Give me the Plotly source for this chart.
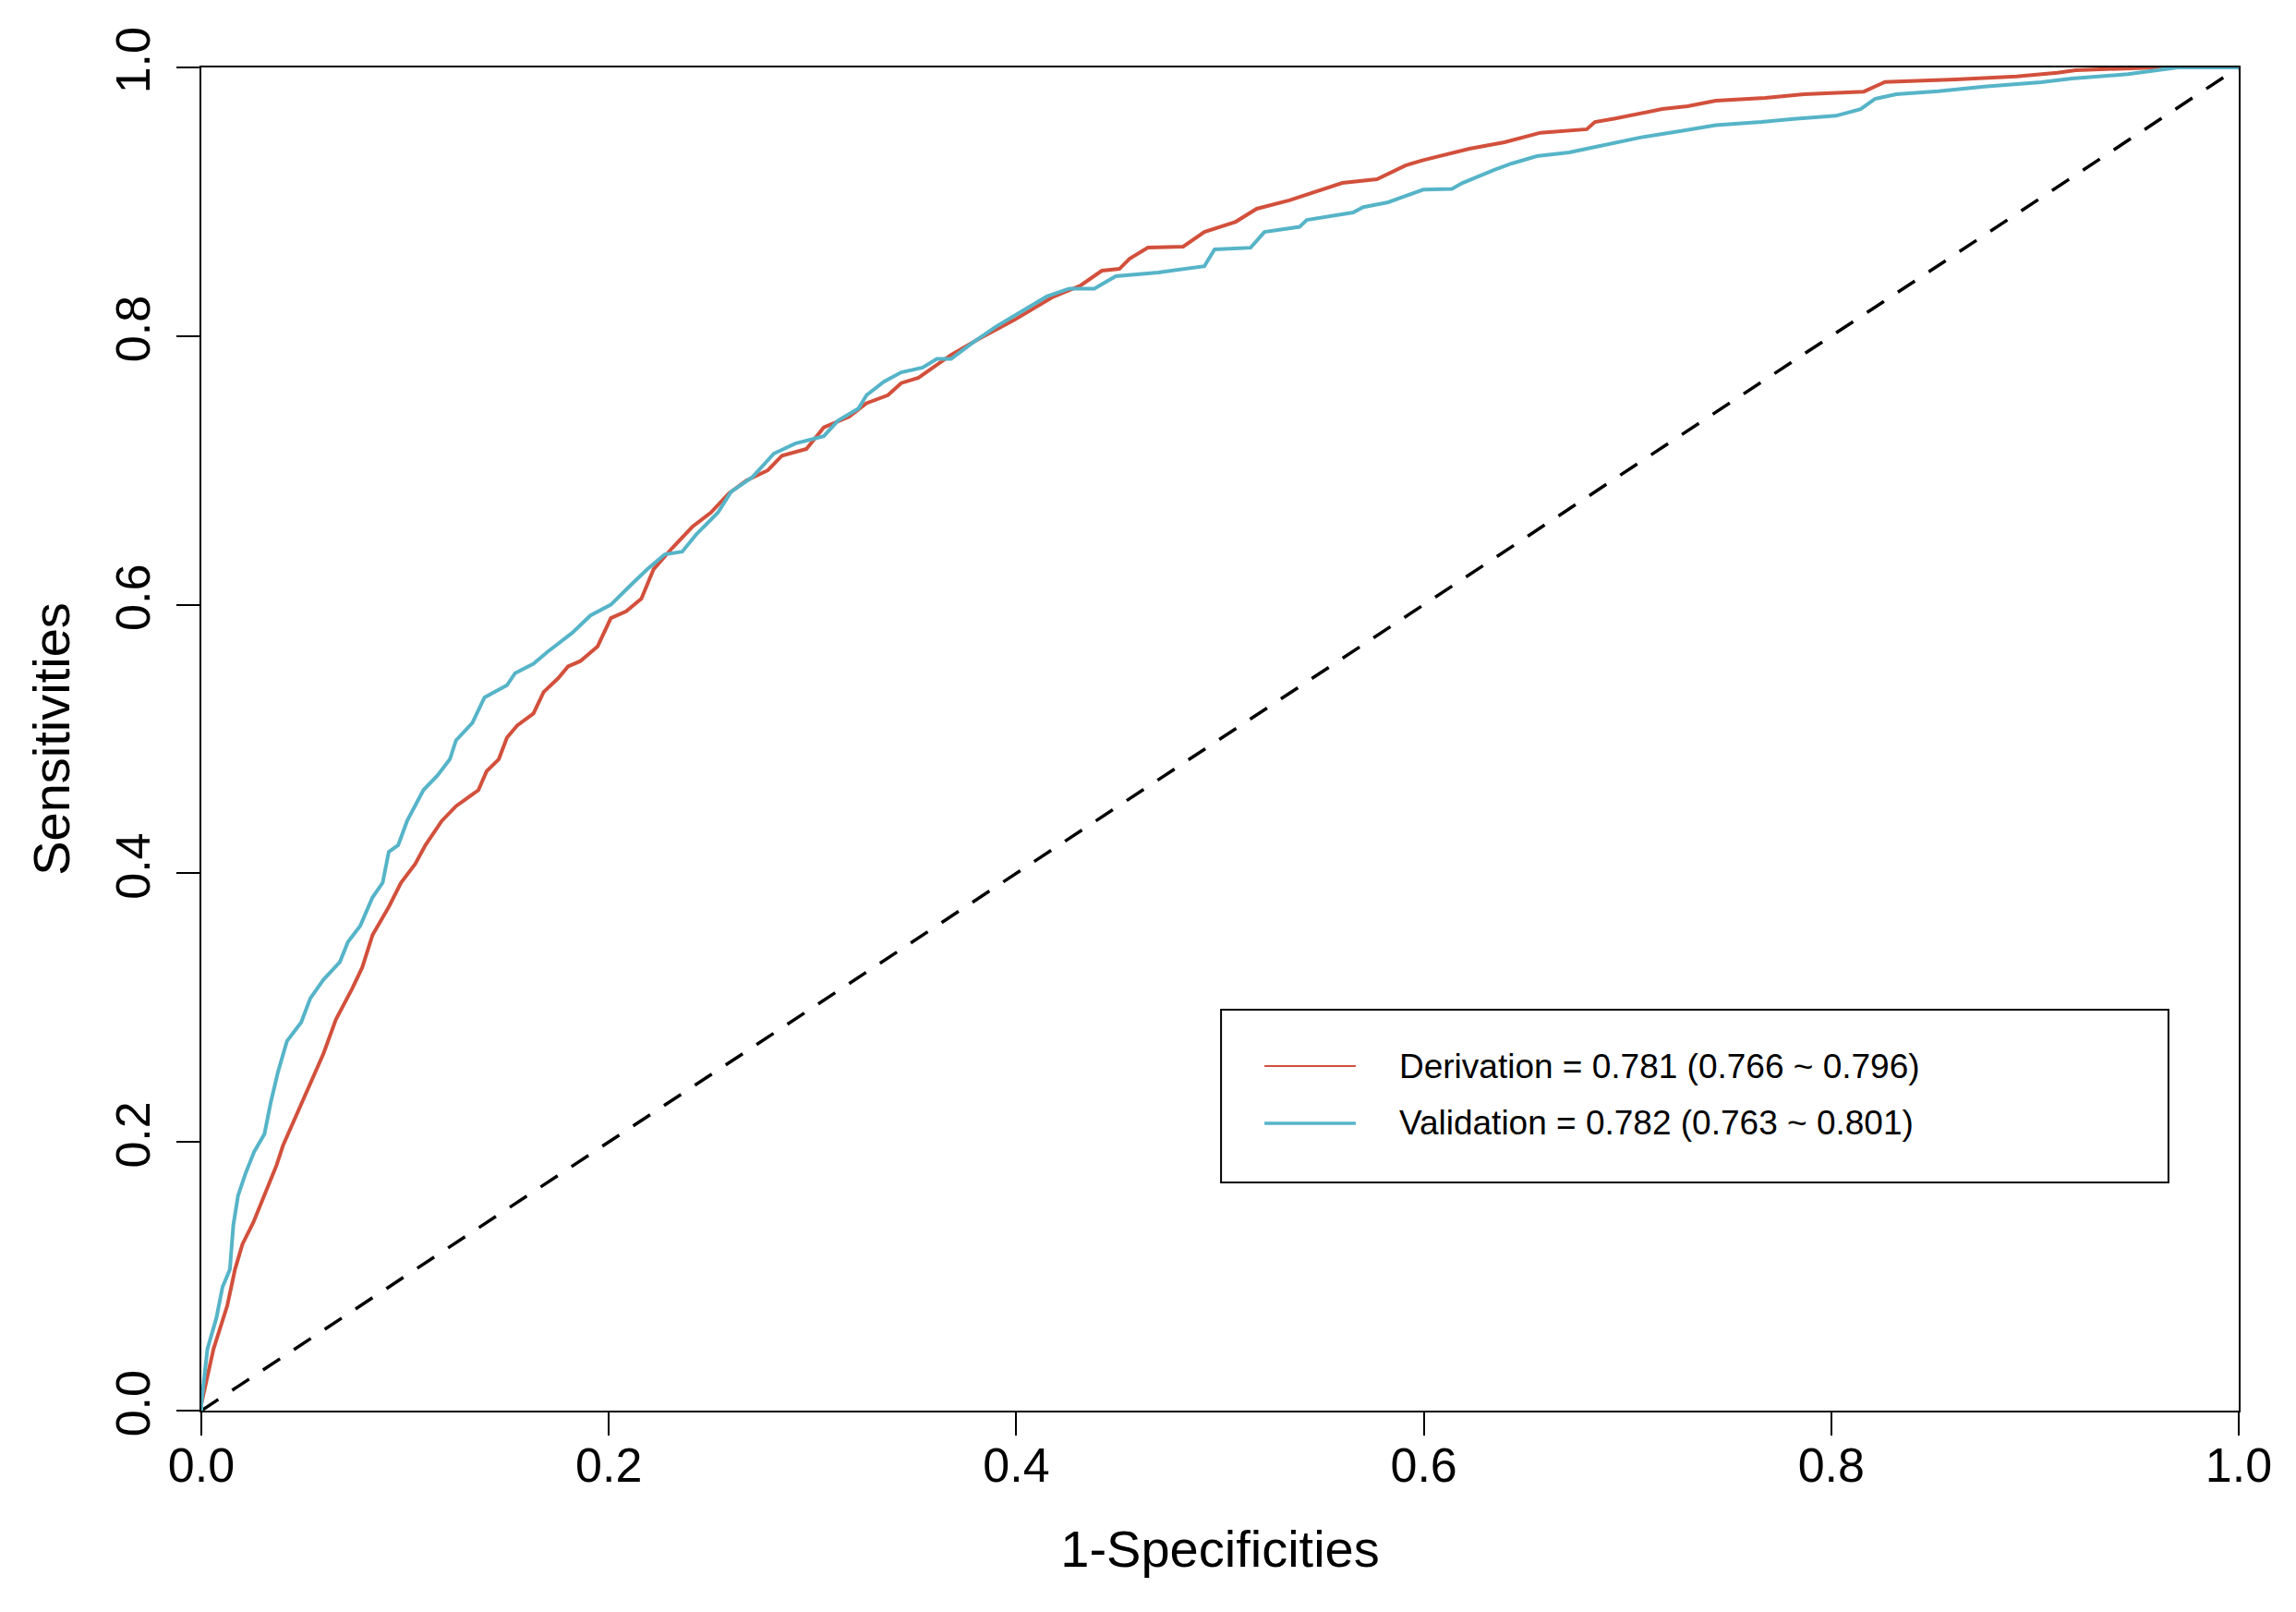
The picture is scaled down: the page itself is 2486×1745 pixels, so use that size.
import plotly.graph_objects as go

# Derivation ROC curve (1-specificity, sensitivity)
deriv_fpr = [0.0, 0.0, 0.006, 0.0127, 0.0165, 0.0202, 0.0255, 0.031, 0.037, 0.040, 0.0467, 0.0527,
             0.060, 0.066, 0.074, 0.079, 0.084, 0.092, 0.098, 0.105, 0.110, 0.118, 0.125, 0.136,
             0.140, 0.146, 0.150, 0.155, 0.163, 0.168, 0.175, 0.180, 0.186, 0.1945, 0.201, 0.2085,
             0.216, 0.222, 0.231, 0.241, 0.250, 0.259, 0.2675, 0.278, 0.285, 0.297, 0.3055, 0.318,
             0.3265, 0.337, 0.3435, 0.352, 0.361, 0.368, 0.3817, 0.399, 0.4175, 0.4316, 0.442,
             0.4506, 0.4556, 0.4646, 0.4819, 0.4923, 0.5077, 0.518, 0.534, 0.5476, 0.560, 0.577,
             0.591, 0.5997, 0.6224, 0.6396, 0.6573, 0.680, 0.684, 0.694, 0.7068, 0.717, 0.7294,
             0.7433, 0.7675, 0.7866, 0.816, 0.8264, 0.861, 0.891, 0.911, 0.920, 0.960, 1.0]
deriv_tpr = [0.0, 0.005, 0.046, 0.078, 0.105, 0.124, 0.140, 0.160, 0.183, 0.197, 0.220, 0.241,
             0.266, 0.291, 0.314, 0.330, 0.354, 0.375, 0.393, 0.407, 0.421, 0.439, 0.450, 0.462,
             0.476, 0.485, 0.501, 0.510, 0.519, 0.535, 0.545, 0.554, 0.558, 0.569, 0.590, 0.595,
             0.6045, 0.6265, 0.642, 0.658, 0.6685, 0.683, 0.6925, 0.700, 0.711, 0.716, 0.732, 0.740,
             0.750, 0.756, 0.765, 0.769, 0.779, 0.786, 0.798, 0.812, 0.8288, 0.8377, 0.8487,
             0.850, 0.8576, 0.8659, 0.8666, 0.8775, 0.8851, 0.8948, 0.901, 0.9078, 0.914, 0.9168,
             0.927, 0.931, 0.9395, 0.9443, 0.9514, 0.954, 0.9594, 0.962, 0.9662, 0.969, 0.9711,
             0.9752, 0.9773, 0.980, 0.982, 0.9892, 0.991, 0.9933, 0.996, 0.998, 1.0, 1.0]

# Validation ROC curve
valid_fpr = [0.0, 0.0, 0.003, 0.0074, 0.0104, 0.014, 0.0157, 0.018, 0.0218, 0.026, 0.031, 0.034,
             0.0376, 0.042, 0.049, 0.0535, 0.060, 0.068, 0.072, 0.078, 0.084, 0.089, 0.092, 0.0966,
             0.101, 0.109, 0.116, 0.122, 0.125, 0.133, 0.139, 0.150, 0.154, 0.163, 0.170, 0.182,
             0.191, 0.201, 0.210, 0.219, 0.2275, 0.236, 0.243, 0.2535, 0.260, 0.2705, 0.281, 0.2915,
             0.3055, 0.3125, 0.3225, 0.3265, 0.335, 0.3435, 0.354, 0.361, 0.368, 0.3785, 0.390,
             0.4025, 0.415, 0.426, 0.4383, 0.4488, 0.4696, 0.4923, 0.4973, 0.515, 0.5218, 0.539,
             0.5426, 0.5653, 0.5703, 0.5825, 0.5997, 0.6138, 0.619, 0.6346, 0.6432, 0.6555, 0.6714,
             0.6843, 0.6947, 0.7068, 0.7257, 0.7433, 0.7657, 0.7815, 0.8023, 0.8144, 0.8214, 0.8319,
             0.8526, 0.875, 0.903, 0.918, 0.9456, 0.962, 0.970, 1.0]
valid_tpr = [0.0, 0.005, 0.046, 0.069, 0.092, 0.105, 0.138, 0.160, 0.177, 0.193, 0.206, 0.229,
             0.252, 0.275, 0.289, 0.307, 0.321, 0.334, 0.349, 0.361, 0.382, 0.393, 0.416, 0.421,
             0.439, 0.462, 0.473, 0.485, 0.499, 0.512, 0.531, 0.540, 0.549, 0.556, 0.565, 0.579,
             0.592, 0.600, 0.6135, 0.6265, 0.6375, 0.6395, 0.6525, 0.6685, 0.684, 0.695, 0.7125, 0.720,
             0.7255, 0.737, 0.746, 0.756, 0.766, 0.773, 0.7765, 0.783, 0.783, 0.795, 0.807,
             0.818, 0.8295, 0.8353, 0.8353, 0.8446, 0.8473, 0.852, 0.8645, 0.8658, 0.8775, 0.8813,
             0.8865, 0.892, 0.896, 0.8996, 0.909, 0.9096, 0.914, 0.9237, 0.9285, 0.934, 0.9367,
             0.9409, 0.9445, 0.948, 0.9525, 0.957, 0.9594, 0.9617, 0.964, 0.9689, 0.9766, 0.980,
             0.9823, 0.9857, 0.989, 0.9917, 0.995, 0.998, 1.0, 1.0]

ref_x = [0.0, 1.0]
ref_y = [0.0, 1.0]

tick_vals = [0.0, 0.2, 0.4, 0.6, 0.8, 1.0]
tick_text = ["0.0", "0.2", "0.4", "0.6", "0.8", "1.0"]

legend_labels = ["Derivation = 0.781 (0.766 ~ 0.796)", "Validation = 0.782 (0.763 ~ 0.801)"]

RED = "#D2503C"
BLUE = "#56B4C8"
FONT = "Liberation Sans, Arial, sans-serif"

fig = go.Figure()
fig.add_trace(go.Scatter(x=ref_x, y=ref_y, mode="lines", showlegend=False,
                         line=dict(color="black", width=3.5, dash="22px,18px"), hoverinfo="skip"))
fig.add_trace(go.Scatter(x=deriv_fpr, y=deriv_tpr, mode="lines", name=legend_labels[0],
                         showlegend=False, line=dict(color=RED, width=4)))
fig.add_trace(go.Scatter(x=valid_fpr, y=valid_tpr, mode="lines", name=legend_labels[1],
                         showlegend=False, line=dict(color=BLUE, width=4)))

# legend box (drawn like R's legend())
fig.add_shape(type="rect", xref="x", yref="y", x0=0.5005, x1=0.9655, y0=0.1699, y1=0.2985,
              line=dict(color="black", width=2), fillcolor="white", layer="above")
fig.add_shape(type="line", xref="x", yref="y", x0=0.5218, x1=0.5666, y0=0.2565, y1=0.2565,
              line=dict(color=RED, width=2), layer="above")
fig.add_shape(type="line", xref="x", yref="y", x0=0.5218, x1=0.5666, y0=0.2139, y1=0.2139,
              line=dict(color=BLUE, width=3.5), layer="above")
fig.add_annotation(x=0.587, y=0.2565, xref="x", yref="y", text=legend_labels[0], showarrow=False,
                   xanchor="left", yanchor="middle", font=dict(family=FONT, size=37, color="black"))
fig.add_annotation(x=0.587, y=0.2139, xref="x", yref="y", text=legend_labels[1], showarrow=False,
                   xanchor="left", yanchor="middle", font=dict(family=FONT, size=37, color="black"))

axis_common = dict(range=[0, 1], tickvals=tick_vals, ticktext=tick_text, showgrid=False,
                   zeroline=False, showline=True, linecolor="black", linewidth=2, mirror=True,
                   ticks="outside", ticklen=25, tickwidth=2, tickcolor="black",
                   tickfont=dict(family=FONT, size=52, color="black"))

fig.update_xaxes(**axis_common, ticklabelstandoff=-12,
                 title=dict(text="1-Specificities", font=dict(family=FONT, size=56, color="black"),
                            standoff=42))
fig.update_yaxes(**axis_common, tickangle=-90, ticklabelstandoff=8,
                 title=dict(text="Sensitivities", font=dict(family=FONT, size=56, color="black"),
                            standoff=22))

fig.update_layout(width=2486, height=1745, plot_bgcolor="white", paper_bgcolor="white",
                  margin=dict(l=210, r=70, t=65, b=226), showlegend=False,
                  font=dict(family=FONT, color="black"))

fig.write_html("out.html")
